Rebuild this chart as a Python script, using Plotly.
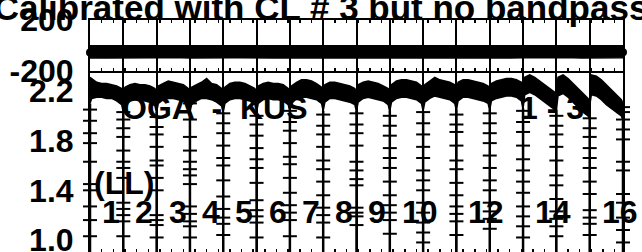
import plotly.graph_objects as go

# ---------------- data ----------------
IF_LABELS = ["1", "2", "3", "4", "5", "6", "7", "8", "9", "10", "", "12", "", "14", "", "16"]

# fractional channel positions inside each IF (0 = low edge, 1 = high edge)
AMP_FRAC = [0.0, 0.05, 0.2, 0.35, 0.5, 0.65, 0.8, 0.95, 1.0]
# upper / lower envelope of the amplitude band for each IF
AMP_HI = [
    [2.31, 2.30, 2.27, 2.26, 2.26, 2.25, 2.24, 2.22, 2.19],
    [2.19, 2.23, 2.25, 2.26, 2.25, 2.25, 2.24, 2.22, 2.18],
    [2.20, 2.24, 2.26, 2.28, 2.27, 2.26, 2.25, 2.22, 2.18],
    [2.19, 2.23, 2.25, 2.27, 2.30, 2.26, 2.25, 2.22, 2.18],
    [2.19, 2.23, 2.26, 2.27, 2.27, 2.26, 2.24, 2.22, 2.18],
    [2.19, 2.24, 2.26, 2.27, 2.26, 2.26, 2.25, 2.22, 2.18],
    [2.20, 2.24, 2.27, 2.29, 2.29, 2.28, 2.26, 2.23, 2.19],
    [2.20, 2.25, 2.27, 2.27, 2.26, 2.25, 2.24, 2.22, 2.18],
    [2.20, 2.25, 2.27, 2.28, 2.27, 2.26, 2.24, 2.22, 2.18],
    [2.20, 2.25, 2.28, 2.29, 2.29, 2.28, 2.27, 2.24, 2.19],
    [2.20, 2.25, 2.28, 2.31, 2.29, 2.28, 2.27, 2.25, 2.20],
    [2.21, 2.27, 2.29, 2.29, 2.28, 2.27, 2.26, 2.24, 2.19],
    [2.21, 2.26, 2.28, 2.29, 2.30, 2.30, 2.29, 2.27, 2.22],
    [2.24, 2.31, 2.33, 2.31, 2.28, 2.25, 2.22, 2.19, 2.16],
    [2.23, 2.31, 2.33, 2.30, 2.26, 2.22, 2.18, 2.14, 2.11],
    [2.25, 2.33, 2.32, 2.29, 2.25, 2.21, 2.17, 2.13, 2.10],
]
AMP_LO = [
    [2.10, 2.14, 2.15, 2.15, 2.14, 2.14, 2.12, 2.09, 2.03],
    [2.03, 2.09, 2.12, 2.13, 2.13, 2.12, 2.11, 2.08, 2.02],
    [2.03, 2.10, 2.13, 2.14, 2.14, 2.13, 2.12, 2.09, 2.03],
    [2.03, 2.09, 2.12, 2.14, 2.14, 2.13, 2.11, 2.08, 2.02],
    [2.03, 2.10, 2.13, 2.14, 2.14, 2.13, 2.12, 2.09, 2.03],
    [2.03, 2.10, 2.13, 2.14, 2.13, 2.13, 2.12, 2.09, 2.03],
    [2.04, 2.10, 2.14, 2.15, 2.15, 2.14, 2.13, 2.10, 2.04],
    [2.04, 2.11, 2.14, 2.14, 2.13, 2.12, 2.11, 2.09, 2.03],
    [2.04, 2.11, 2.14, 2.15, 2.14, 2.13, 2.12, 2.09, 2.03],
    [2.04, 2.11, 2.14, 2.15, 2.15, 2.14, 2.13, 2.10, 2.04],
    [2.04, 2.11, 2.14, 2.16, 2.15, 2.14, 2.13, 2.10, 2.04],
    [2.05, 2.12, 2.15, 2.15, 2.14, 2.13, 2.12, 2.10, 2.04],
    [2.05, 2.12, 2.14, 2.15, 2.16, 2.16, 2.15, 2.12, 2.05],
    [2.06, 2.17, 2.19, 2.17, 2.14, 2.11, 2.08, 2.05, 2.00],
    [2.05, 2.16, 2.18, 2.15, 2.11, 2.07, 2.03, 2.00, 1.97],
    [2.08, 2.17, 2.16, 2.13, 2.09, 2.06, 2.03, 2.00, 1.96],
]

# phase band (degrees)
PHASE_FRAC = [0.0, 0.25, 0.5, 0.75, 1.0]
PHASE_HI = [
    [-14, -12, -16, -13, -15], [-15, -13, -16, -14, -15], [-16, -14, -15, -17, -15],
    [-15, -14, -16, -15, -14], [-16, -15, -14, -16, -15], [-15, -17, -15, -14, -16],
    [-16, -14, -15, -16, -15], [-15, -16, -14, -15, -16], [-16, -15, -17, -15, -14],
    [-15, -14, -16, -15, -15], [-16, -15, -14, -16, -15], [-15, -16, -15, -14, -16],
    [-14, -15, -16, -15, -14], [-15, -14, -15, -16, -15], [-14, -16, -15, -14, -15],
    [-15, -14, -16, -15, -14],
]
PHASE_LO = [
    [-98, -96, -99, -97, -98], [-97, -99, -96, -98, -97], [-98, -97, -99, -96, -98],
    [-97, -98, -96, -99, -97], [-98, -96, -97, -98, -99], [-97, -99, -98, -96, -97],
    [-98, -97, -96, -98, -97], [-96, -98, -99, -97, -98], [-97, -96, -98, -99, -97],
    [-98, -97, -96, -98, -96], [-97, -99, -97, -96, -98], [-98, -96, -98, -97, -99],
    [-97, -98, -96, -99, -97], [-98, -97, -99, -96, -98], [-96, -98, -97, -98, -97],
    [-98, -97, -96, -98, -97],
]
PHASE_END = [-55, -52]

# band-edge channels: every IF boundary drops far below the plotted range
DIP_MIN = [0.5] * 17
DIP_MARKS = [
    [2.05, 1.96, 1.86, 1.78, 1.63, 1.45, 1.40, 1.27, 1.16, 1.03],
    [2.03, 1.97, 1.90, 1.83, 1.72, 1.63, 1.58, 1.50, 1.30, 1.25, 1.20, 1.15, 1.03],
    [1.99, 1.91, 1.85, 1.75, 1.64, 1.60, 1.50, 1.40, 1.20, 1.16, 1.12, 1.02],
    [2.10, 1.97, 1.83, 1.72, 1.63, 1.57, 1.52, 1.45, 1.27, 1.21, 1.15, 1.11, 1.02],
    [2.02, 1.94, 1.86, 1.76, 1.66, 1.60, 1.48, 1.35, 1.25, 1.18, 1.13, 1.04],
    [2.00, 1.93, 1.84, 1.74, 1.65, 1.58, 1.46, 1.32, 1.24, 1.19, 1.14, 1.02],
    [2.04, 1.95, 1.88, 1.78, 1.67, 1.61, 1.50, 1.38, 1.28, 1.22, 1.16, 1.03],
    [2.01, 1.92, 1.85, 1.75, 1.64, 1.57, 1.47, 1.36, 1.26, 1.20, 1.14, 1.02],
    [2.02, 1.93, 1.86, 1.76, 1.63, 1.56, 1.49, 1.44, 1.26, 1.22, 1.19, 1.12],
    [2.00, 1.92, 1.84, 1.74, 1.66, 1.58, 1.47, 1.36, 1.28, 1.22, 1.16, 1.05],
    [2.03, 1.94, 1.85, 1.75, 1.66, 1.56, 1.48, 1.40, 1.30, 1.22, 1.14, 1.06, 0.98],
    [2.01, 1.93, 1.87, 1.76, 1.64, 1.57, 1.46, 1.36, 1.27, 1.21, 1.15, 1.04],
    [2.02, 1.94, 1.86, 1.78, 1.68, 1.58, 1.48, 1.40, 1.30, 1.23, 1.17, 1.09],
    [2.04, 1.95, 1.87, 1.76, 1.65, 1.56, 1.47, 1.38, 1.27, 1.19, 1.11, 1.02],
    [2.00, 1.92, 1.85, 1.75, 1.64, 1.52, 1.44, 1.33, 1.23, 1.17, 1.11, 1.03],
    [1.98, 1.90, 1.83, 1.74, 1.66, 1.58, 1.47, 1.37, 1.24, 1.18, 1.13, 1.04],
    [2.07, 2.03, 1.97, 1.89, 1.81, 1.63, 1.56, 1.37, 1.30, 1.18, 1.08, 0.98],
]

TITLE = "Calibrated with CL # 3 but no bandpass"
BASELINE = "OGA  -  KUS"
RANGE_TEXT = "1 - 3"
POL = "(LL)"
PHASE_TICKS = [200, 0, -200]
PHASE_TICKTEXT = ["200", "", "-200"]
AMP_TICKS = [1.0, 1.4, 1.8, 2.2]
AMP_TICKTEXT = ["1.0", "1.4", "1.8", "2.2"]

# ---------------- build figure ----------------
FONT = "Liberation Sans, Arial, Helvetica, sans-serif"
fig = go.Figure()

# amplitude band (one closed polygon per IF)
bx, by = [], []
for k in range(16):
    xs = [k + f for f in AMP_FRAC]
    bx += xs + xs[::-1] + [None]
    by += AMP_HI[k] + AMP_LO[k][::-1] + [None]
fig.add_trace(go.Scatter(x=bx, y=by, mode="lines", fill="toself",
                         fillcolor="black", line=dict(color="black", width=1.5),
                         xaxis="x", yaxis="y", hoverinfo="skip"))

# band-edge drops
dx, dy = [], []
for b in range(17):
    lo_here = AMP_LO[b][0] if b < 16 else AMP_LO[15][-1]
    dx += [b, b, None]
    dy += [lo_here, DIP_MIN[b], None]
fig.add_trace(go.Scatter(x=dx, y=dy, mode="lines",
                         line=dict(color="black", width=2.5),
                         xaxis="x", yaxis="y", hoverinfo="skip"))

mx, my = [], []
for b in range(17):
    mx += [b] * len(DIP_MARKS[b])
    my += DIP_MARKS[b]
fig.add_trace(go.Scatter(x=mx, y=my, mode="markers", cliponaxis=False,
                         marker=dict(symbol="line-ew", size=10, color="black",
                                     line=dict(color="black", width=2)),
                         xaxis="x", yaxis="y", hoverinfo="skip"))

# phase band
px_up, py_up, px_lo, py_lo = [], [], [], []
for k in range(16):
    for j, f in enumerate(PHASE_FRAC):
        if k > 0 and j == 0:
            continue
        px_up.append(k + f)
        py_up.append(PHASE_HI[k][j])
        px_lo.append(k + f)
        py_lo.append(PHASE_LO[k][j])
fig.add_trace(go.Scatter(x=px_up + px_lo[::-1], y=py_up + py_lo[::-1], mode="lines",
                         fill="toself", fillcolor="black",
                         line=dict(color="black", width=1.5),
                         xaxis="x2", yaxis="y2", hoverinfo="skip"))
fig.add_trace(go.Scatter(x=[0, 16], y=PHASE_END, mode="markers", cliponaxis=False,
                         marker=dict(symbol="circle", size=8, color="black"),
                         xaxis="x2", yaxis="y2", hoverinfo="skip"))

# text labels
big = dict(family=FONT, size=32, color="black", weight="bold")
annotations = [
    dict(x=0.9, y=2.06, xref="x", yref="y", text=BASELINE, showarrow=False,
         xanchor="left", yanchor="middle", font=big),
    dict(x=12.85, y=2.06, xref="x", yref="y", text=RANGE_TEXT, showarrow=False,
         xanchor="left", yanchor="middle", font=big),
    dict(x=0.06, y=1.46, xref="x", yref="y", text=POL, showarrow=False,
         xanchor="left", yanchor="middle", font=big),
]
for k, lab in enumerate(IF_LABELS):
    if lab:
        annotations.append(dict(x=k + 0.30, y=1.225, xref="x", yref="y", text=lab,
                                showarrow=False, xanchor="left", yanchor="middle",
                                font=big))

minor = dict(ticks="inside", ticklen=3, tickwidth=1.5, tickcolor="black",
             dtick=0.35, tick0=0, showgrid=False)
xcommon = dict(range=[0, 16], dtick=1, tick0=0, showgrid=True, gridcolor="black",
               gridwidth=2, zeroline=False, showticklabels=False, ticks="",
               minor=minor, fixedrange=True, automargin=False)

fig.update_layout(
    template="none",
    width=642, height=252, autosize=False,
    margin=dict(l=90, r=19, t=20, b=0, autoexpand=False),
    paper_bgcolor="white", plot_bgcolor="white",
    showlegend=False,
    title=dict(text=TITLE, x=0.5, xref="container", xanchor="center",
               y=0.968, yref="container", yanchor="middle", automargin=False,
               font=dict(family=FONT, size=35, color="black", weight="bold")),
    xaxis=dict(anchor="y", domain=[0, 1], showline=False, mirror="allticks", **xcommon),
    xaxis2=dict(anchor="y2", domain=[0, 1], matches="x", showline=True, linecolor="black",
                linewidth=2, mirror="allticks", **xcommon),
    yaxis=dict(domain=[0, 0.7802], range=[0.903, 2.361], tickvals=AMP_TICKS,
               ticktext=AMP_TICKTEXT, showgrid=False, zeroline=False, ticks="",
               showline=True, linecolor="black", linewidth=2, mirror=True,
               ticklabelstandoff=8, automargin=False, fixedrange=True,
               ticklabeloverflow="allow",
               tickfont=dict(family=FONT, size=32, color="black", weight="bold")),
    yaxis2=dict(domain=[0.7802, 1], range=[-200, 200], tickvals=PHASE_TICKS,
                ticktext=PHASE_TICKTEXT, showgrid=True, gridcolor="black", gridwidth=2,
                zeroline=False, ticks="", showline=True, linecolor="black",
                linewidth=2, mirror=True, ticklabelstandoff=8, automargin=False,
                fixedrange=True, ticklabeloverflow="allow",
                tickfont=dict(family=FONT, size=32, color="black", weight="bold")),
    annotations=annotations,
)

fig.write_html(
    "out.html",
    config={"displayModeBar": False, "staticPlot": True},
    post_script="document.body.style.margin='0';document.body.style.overflow='hidden';",
)
